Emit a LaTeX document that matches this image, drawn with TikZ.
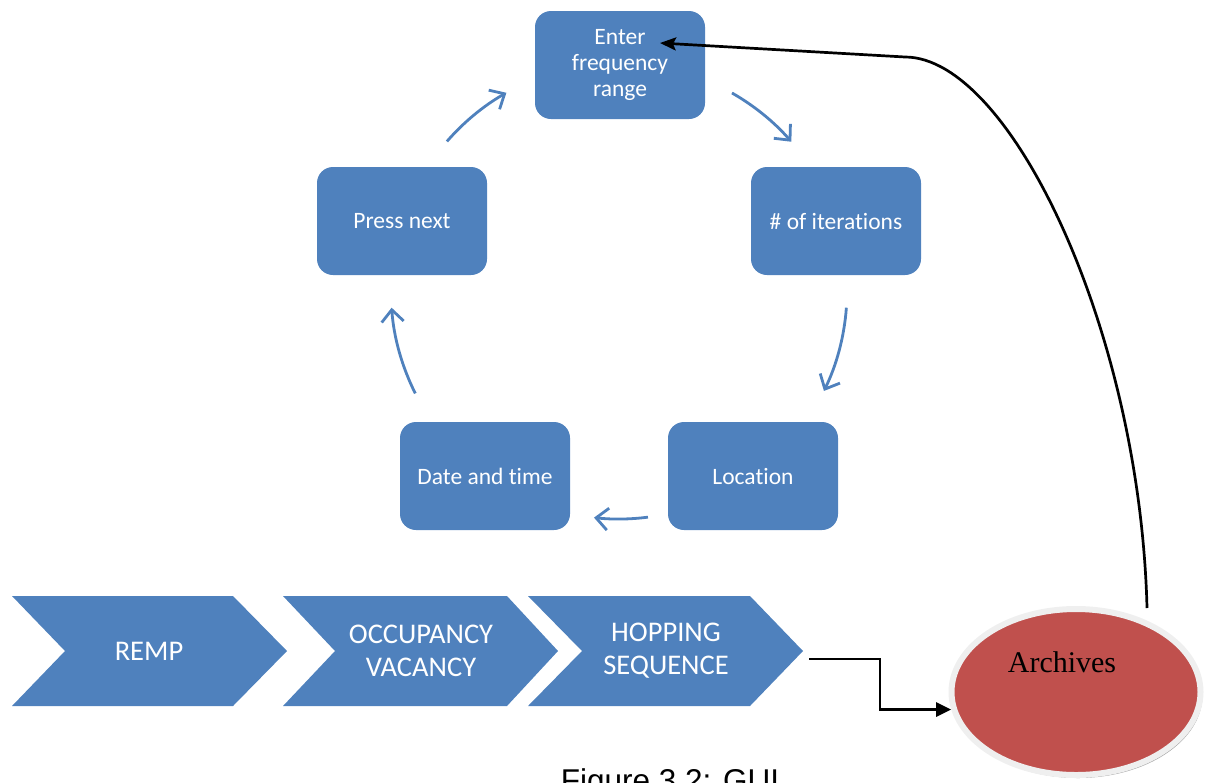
\documentclass[tikz,border=0pt]{standalone}
\usepackage{fontspec}
\usetikzlibrary{arrows.meta,shapes.geometric,calc,shadows}
\newfontfamily\boxfont{Carlito}[Ligatures=NoCommon]
\newfontfamily\archfont{Liberation Serif}
\newfontfamily\capfont{Liberation Sans}
\definecolor{stepblue}{HTML}{4F81BD}
\definecolor{archred}{HTML}{C0504D}
\definecolor{ringgray}{HTML}{EFEFEF}
% chevron: left x, notch x, upper-right x, tip x
\newcommand\chevronshape[4]{%
  \fill[stepblue] (#1,596) -- (#3,596) -- (#4,651) -- (#3,706) -- (#1,706) -- (#2,651) -- cycle;}
\begin{document}
\begin{tikzpicture}[x=1pt,y=-1pt,
  stepbox/.style={rectangle, rounded corners=16pt, fill=stepblue, text=white,
    minimum width=170pt, minimum height=108pt, inner sep=0pt, align=center,
    font=\boxfont\fontsize{23.5}{26}\selectfont},
  chevtext/.style={text=white, align=center, inner sep=0pt,
    font=\boxfont\fontsize{28.5}{33}\selectfont},
  cyclearrow/.style={stepblue, line width=2.8pt,
    -{Straight Barb[length=12pt,width=22pt]}},
  blackline/.style={black, line width=2.7pt},
]
\useasboundingbox (0,0) rectangle (1206,782);

% the cycle of settings
\node[stepbox] (enter) at (620,65) {Enter\\frequency\\range};
\node[stepbox] (iter)  at (836,221) {\# of iterations};
\node[stepbox] (loc)   at (753,476) {Location};
\node[stepbox] (date)  at (485,476) {Date and time};
\node[stepbox] (press) at (402,221) {Press next};

\coordinate (hub) at (619,291);
\draw[cyclearrow] (hub) ++(139:228pt)  arc[start angle=139,  end angle=119.6, radius=228pt];
\draw[cyclearrow] (hub) ++(60.3:228pt) arc[start angle=60.3, end angle=40.9,  radius=228pt];
\draw[cyclearrow] (hub) ++(-4.2:228pt) arc[start angle=-4.2, end angle=-26,   radius=228pt];
\draw[cyclearrow] (hub) ++(-82.7:228pt) arc[start angle=-82.7, end angle=-96.3, radius=228pt];
\draw[cyclearrow] (hub) ++(206.7:228pt) arc[start angle=206.7, end angle=184.2, radius=228pt];

% process chevrons
\chevronshape{12}{65}{233}{287}
\chevronshape{283}{335}{507}{558}
\chevronshape{528}{582}{750}{803}
\node[chevtext] (remp) at (149,651) {REMP};
\node[chevtext] (occ)  at (421,651) {OCCUPANCY\\VACANCY};
\node[chevtext] (hop)  at (666,651) {HOPPING\\SEQUENCE};
\coordinate (hoptip) at (803,651);

% archives
\node[ellipse, minimum width=249pt, minimum height=166pt, inner sep=0pt,
  fill=archred, draw=ringgray, line width=6pt,
  drop shadow={shadow xshift=2pt, shadow yshift=-3pt, fill=black, opacity=0.35}]
  (archives) at (1076,692) {};
\node[font=\archfont\fontsize{30}{36}\selectfont, anchor=base, inner sep=0pt]
  (archlabel) at (1062,672) {Archives};

% connectors
\coordinate (elbowstart) at ($(hoptip)+(6,8)$);
\coordinate (elbowbend) at (880,659);
\draw[blackline, -{Triangle[length=15pt,width=14pt]}]
  (elbowstart) -- (elbowbend) |- (archives.188.7);

\coordinate (loopstart) at (1147,608);
\coordinate (loopturn) at (905,57);
\coordinate (entertip) at ($(enter.center)+(40,-22)$);
\draw[blackline, -{Stealth[length=16pt,width=13pt,inset=3pt]}]
  (loopstart) .. controls (1140,330) and (1010,57) .. (loopturn) -- (entertip);

% caption
\node[font=\capfont\fontsize{31.5}{36}\selectfont, anchor=base, inner sep=0pt]
  (caption) at (670,791) {Figure 3.2: GUI};
\end{tikzpicture}
\end{document}
